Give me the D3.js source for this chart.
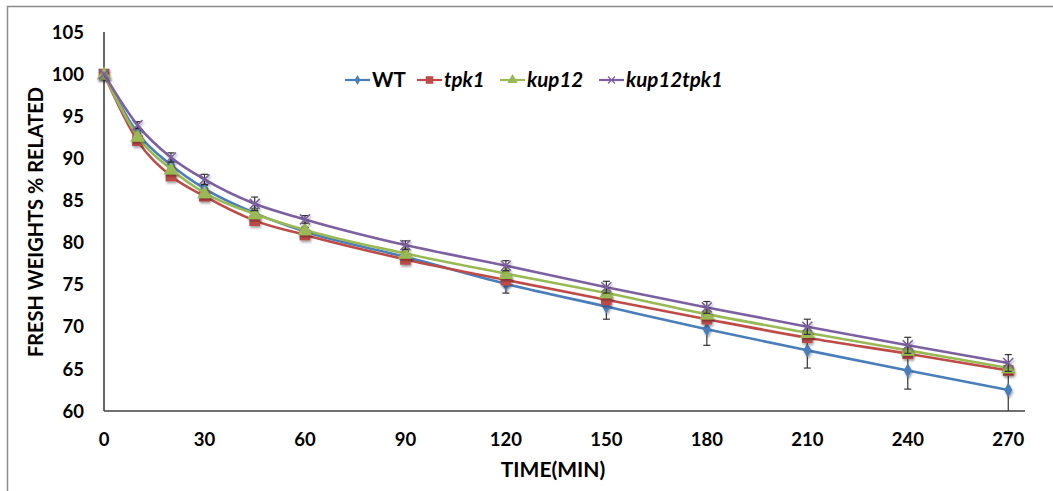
<!DOCTYPE html>
<html>
<head>
<meta charset="utf-8">
<script src="https://cdn.jsdelivr.net/npm/d3@7"></script>
<style>
  body { margin: 0; background: #fff; }
  text { font-family: Lato, "Open Sans", sans-serif; font-weight: bold; fill: #000; }
</style>
</head>
<body>
<div id="chart"></div>
<script>
// data
var times = [0, 10, 20, 30, 45, 60, 90, 120, 150, 180, 210, 240, 270];
var wt = [100, 93.0, 89.2, 86.4, 83.5, 81.3, 78.3, 75.1, 72.4, 69.7, 67.2, 64.8, 62.5];
var tpk1 = [100, 92.1, 87.9, 85.5, 82.6, 80.9, 78.0, 75.55, 73.2, 70.9, 68.7, 66.8, 64.8];
var kup12 = [100, 92.6, 88.7, 85.9, 83.4, 81.5, 78.7, 76.3, 74.0, 71.5, 69.3, 67.2, 65.1];
var kup12tpk1 = [100, 93.95, 90.1, 87.5, 84.6, 82.75, 79.7, 77.25, 74.7, 72.3, 70.0, 67.8, 65.7];

var wtErr = [0, 0.3, 0.4, 0.4, 0.5, 0.5, 0.6, 1.1, 1.5, 1.9, 2.1, 2.2, 2.9];
var tpk1Err = [0, 0.3, 0.3, 0.3, 0.3, 0.3, 0.3, 0.3, 0.3, 0.3, 0.3, 0.3, 0.3];
var kup12Err = [0, 0.3, 0.3, 0.3, 0.3, 0.3, 0.3, 0.3, 0.3, 0.3, 0.3, 0.3, 0.3];
var kup12tpk1Err = [0, 0.4, 0.55, 0.6, 0.8, 0.45, 0.5, 0.6, 0.7, 0.7, 0.9, 0.95, 1.0];

var xTicks = [0, 30, 60, 90, 120, 150, 180, 210, 240, 270];
var yTicks = [60, 65, 70, 75, 80, 85, 90, 95, 100, 105];

var series = [
  { name: "WT", values: wt, err: wtErr, color: "#4a7ebb", symbol: d3.symbolDiamond, size: 60, italic: false },
  { name: "tpk1", values: tpk1, err: tpk1Err, color: "#be4b48", symbol: d3.symbolSquare, size: 115, italic: true },
  { name: "kup12", values: kup12, err: kup12Err, color: "#98b954", symbol: d3.symbolTriangle, size: 95, italic: true },
  { name: "kup12tpk1", values: kup12tpk1, err: kup12tpk1Err, color: "#7d60a0", symbol: d3.symbolCross, size: 0, italic: true }
];

var W = 1053, H = 491;
var x = d3.scaleLinear().domain([0, 275]).range([104, 1025]);
var y = d3.scaleLinear().domain([60, 105]).range([411, 32]);

var svg = d3.select("#chart").append("svg")
  .attr("width", W)
  .attr("height", H);

var defs = svg.append("defs");
var sh = defs.append("filter").attr("id", "shadow")
  .attr("x", "-50%").attr("y", "-50%").attr("width", "200%").attr("height", "200%");
sh.append("feDropShadow")
  .attr("dx", 1).attr("dy", 2).attr("stdDeviation", 1.2)
  .attr("flood-color", "#000").attr("flood-opacity", 0.35);

// outer frame
svg.append("rect")
  .attr("x", 7.5).attr("y", 6.5)
  .attr("width", 1200).attr("height", 600)
  .attr("fill", "none")
  .attr("stroke", "#8c8c8c")
  .attr("stroke-width", 1.5);

// axes
svg.append("line")
  .attr("x1", x(0)).attr("x2", x(0))
  .attr("y1", y(105)).attr("y2", y(60))
  .attr("stroke", "#000").attr("stroke-width", 1.2);

svg.append("g").selectAll("text")
  .data(yTicks)
  .enter().append("text")
  .attr("x", 84)
  .attr("y", function (d) { return y(d); })
  .attr("dy", "0.36em")
  .attr("text-anchor", "end")
  .style("font-size", "18.5px")
  .text(function (d) { return d; });

svg.append("g").selectAll("text")
  .data(xTicks)
  .enter().append("text")
  .attr("x", function (d) { return x(d); })
  .attr("y", 439)
  .attr("dy", "0.36em")
  .attr("text-anchor", "middle")
  .style("font-size", "18.5px")
  .text(function (d) { return d; });

svg.append("text")
  .attr("transform", "translate(36,222) rotate(-90)")
  .attr("text-anchor", "middle")
  .attr("dy", "0.36em")
  .style("font-size", "20px")
  .text("FRESH WEIGHTS % RELATED");

svg.append("text")
  .attr("x", 553).attr("y", 469)
  .attr("text-anchor", "middle")
  .attr("dy", "0.36em")
  .style("font-size", "21px")
  .text("TIME(MIN)");

var line = d3.line()
  .x(function (d) { return x(d.t); })
  .y(function (d) { return y(d.v); })
  .curve(d3.curveMonotoneX);

function crossPath(s) {
  return "M" + (-s) + "," + (-s) + "L" + s + "," + s + "M" + (-s) + "," + s + "L" + s + "," + (-s);
}

function drawMarker(g, s) {
  if (s.name === "kup12tpk1") {
    g.append("path")
      .attr("d", crossPath(5))
      .attr("stroke", s.color)
      .attr("stroke-width", 1.6)
      .attr("fill", "none");
  } else {
    g.append("path")
      .attr("d", d3.symbol().type(s.symbol).size(s.size)())
      .attr("fill", s.color)
      .attr("transform", s.name === "kup12" ? "translate(0,1)" : null);
  }
}

var plot = svg.append("g");
plot.append("clipPath").attr("id", "clip")
  .append("rect").attr("x", 90).attr("y", 20).attr("width", 950).attr("height", 391);

series.forEach(function (s) {
  var pts = times.map(function (t, i) { return { t: t, v: s.values[i], e: s.err[i] }; });
  var g = plot.append("g");

  // error bars
  var eb = g.append("g").attr("clip-path", "url(#clip)")
    .selectAll("g").data(pts.filter(function (d) { return d.e > 0; }))
    .enter().append("g")
    .attr("stroke", "#333").attr("stroke-width", 1.2);
  eb.append("line")
    .attr("x1", function (d) { return x(d.t); })
    .attr("x2", function (d) { return x(d.t); })
    .attr("y1", function (d) { return y(d.v + d.e); })
    .attr("y2", function (d) { return y(d.v - d.e); });
  eb.append("line")
    .attr("x1", function (d) { return x(d.t) - 3.5; })
    .attr("x2", function (d) { return x(d.t) + 3.5; })
    .attr("y1", function (d) { return y(d.v + d.e); })
    .attr("y2", function (d) { return y(d.v + d.e); });
  eb.append("line")
    .attr("x1", function (d) { return x(d.t) - 3.5; })
    .attr("x2", function (d) { return x(d.t) + 3.5; })
    .attr("y1", function (d) { return y(d.v - d.e); })
    .attr("y2", function (d) { return y(d.v - d.e); });

  g.append("path")
    .datum(pts)
    .attr("d", line)
    .attr("fill", "none")
    .attr("stroke", s.color)
    .attr("stroke-width", 2.6);

  g.selectAll(".m")
    .data(pts)
    .enter().append("g")
    .attr("class", "m")
    .attr("filter", "url(#shadow)")
    .attr("transform", function (d) { return "translate(" + x(d.t) + "," + y(d.v) + ")"; })
    .each(function () { drawMarker(d3.select(this), s); });
});

// x axis drawn over the lines
svg.append("line")
  .attr("x1", x(0)).attr("x2", x(275))
  .attr("y1", y(60)).attr("y2", y(60))
  .attr("stroke", "#404040").attr("stroke-width", 1.6);

// legend
var legendX = [345, 417, 500, 599];
var legend = svg.append("g");
series.forEach(function (s, i) {
  var lg = legend.append("g").attr("transform", "translate(" + legendX[i] + ",80)");
  lg.append("line")
    .attr("x1", 0).attr("x2", 25)
    .attr("stroke", s.color).attr("stroke-width", 2.2);
  var mk = lg.append("g").attr("transform", "translate(12.5,0)");
  if (s.name === "kup12tpk1") {
    mk.append("path").attr("d", crossPath(3.5))
      .attr("stroke", s.color).attr("stroke-width", 1.3).attr("fill", "none");
  } else {
    mk.append("path")
      .attr("d", d3.symbol().type(s.symbol).size(s.size * 0.5)())
      .attr("fill", s.color);
  }
  lg.append("text")
    .attr("x", 27)
    .attr("dy", "0.36em")
    .style("font-size", "20.5px")
    .style("font-style", s.italic ? "italic" : "normal")
    .text(s.name);
});
</script>
</body>
</html>
